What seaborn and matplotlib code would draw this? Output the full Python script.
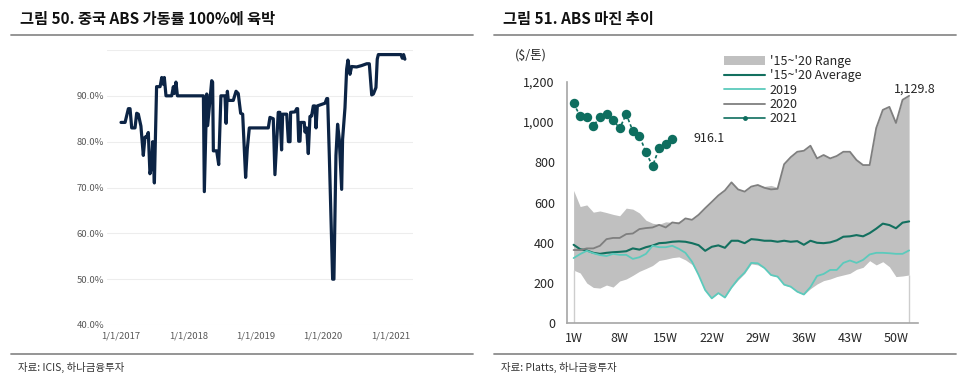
import numpy as np
import pandas as pd
import matplotlib
matplotlib.use("Agg")
import matplotlib.pyplot as plt
import matplotlib.ticker as mticker
from matplotlib.patches import Patch
from matplotlib.lines import Line2D
import seaborn as sns

sns.set_theme(style="white")
plt.rcParams['font.family'] = ['Noto Sans CJK KR', 'DejaVu Sans']

# ---------------- Left chart data: China ABS operating rate (%) ----------------
util_dates = ["2017-01-01", "2017-01-23", "2017-02-10", "2017-02-19", "2017-02-28", "2017-03-18", "2017-03-27", "2017-04-05", "2017-04-19", "2017-05-02",
              "2017-05-11", "2017-05-20", "2017-05-29", "2017-06-07", "2017-06-16", "2017-06-22", "2017-07-01", "2017-07-13", "2017-08-01", "2017-08-10",
              "2017-08-19", "2017-08-24", "2017-09-02", "2017-10-03", "2017-10-12", "2017-10-17", "2017-10-26", "2017-11-03", "2018-03-24", "2018-03-29",
              "2018-04-11", "2018-04-16", "2018-05-08", "2018-05-13", "2018-05-17", "2018-06-04", "2018-06-15", "2018-06-27", "2018-07-19", "2018-07-25",
              "2018-08-01", "2018-08-06", "2018-09-02", "2018-09-17", "2018-09-29", "2018-10-12", "2018-10-23", "2018-11-08", "2018-11-17", "2018-11-28",
              "2019-03-11", "2019-03-20", "2019-04-07", "2019-04-16", "2019-05-04", "2019-05-13", "2019-05-22", "2019-05-28", "2019-06-19", "2019-06-28",
              "2019-07-07", "2019-07-10", "2019-08-03", "2019-08-12", "2019-08-17", "2019-08-23", "2019-08-30", "2019-09-03", "2019-09-22", "2019-09-26",
              "2019-10-05", "2019-10-14", "2019-10-23", "2019-11-01", "2019-11-10", "2019-11-19", "2019-11-25", "2019-12-02", "2019-12-16", "2020-01-13",
              "2020-01-22", "2020-01-27", "2020-02-05", "2020-02-23", "2020-03-01", "2020-03-12", "2020-03-21", "2020-03-30", "2020-04-12", "2020-04-17",
              "2020-04-30", "2020-05-09", "2020-05-16", "2020-05-27", "2020-06-05", "2020-07-02", "2020-07-29", "2020-08-26", "2020-09-09", "2020-09-22",
              "2020-10-01", "2020-10-15", "2020-10-22", "2020-10-28", "2021-02-28", "2021-03-07", "2021-03-14", "2021-03-21"]
util_rate = [84.2, 84.2, 87.2, 87.2, 83.0, 83.0, 86.2, 86.0, 83.4, 77.0,
             81.0, 81.0, 82.0, 73.0, 74.5, 80.0, 71.0, 92.0, 92.0, 94.0,
             92.5, 94.0, 90.0, 90.0, 92.0, 90.5, 93.0, 90.0, 90.0, 69.1,
             90.4, 83.5, 93.3, 93.0, 78.0, 78.0, 75.0, 90.0, 90.0, 84.0,
             91.0, 89.0, 89.0, 91.0, 90.5, 86.2, 86.0, 72.2, 78.4, 83.0,
             83.0, 85.3, 85.0, 72.8, 86.4, 86.4, 78.2, 86.0, 86.0, 80.0,
             80.0, 86.4, 86.5, 87.2, 87.2, 80.1, 80.1, 84.2, 84.2, 82.1,
             83.0, 77.4, 85.5, 85.6, 87.8, 87.8, 83.0, 87.8, 88.0, 88.4,
             89.4, 89.4, 77.0, 50.0, 50.0, 77.0, 83.8, 80.5, 69.6, 80.5,
             87.4, 95.8, 97.8, 94.7, 96.4, 96.3, 96.6, 97.0, 97.0, 90.2,
             90.4, 91.8, 98.0, 99.0, 99.0, 98.2, 99.0, 98.0]
left_xticks = ["2017-01-01", "2018-01-01", "2019-01-01", "2020-01-01", "2021-01-01"]
left_xticklabels = ["1/1/2017", "1/1/2018", "1/1/2019", "1/1/2020", "1/1/2021"]
left_yticks = [40, 50, 60, 70, 80, 90, 100]

# ---------------- Right chart data: ABS margin ($/ton) ----------------
weeks = list(range(1, 53))
range_lo = [264, 250, 200, 178, 175, 190, 180, 210, 220, 238, 258, 272, 287, 312, 318, 326, 330, 315, 292, 240,
            165, 124, 150, 128, 178, 215, 248, 295, 290, 272, 238, 230, 190, 180, 155, 143, 172, 195, 212, 220,
            232, 240, 248, 268, 278, 311, 290, 306, 281, 232, 235, 240]
range_hi = [660, 580, 588, 552, 558, 550, 541, 534, 572, 567, 548, 512, 497, 492, 504, 501, 506, 521, 514, 539,
            572, 603, 635, 660, 700, 665, 654, 679, 687, 680, 685, 675, 790, 825, 852, 857, 882, 819, 836, 819,
            831, 852, 852, 811, 786, 786, 970, 1060, 1075, 995, 1110, 1129.8]
avg_15_20 = [390, 368, 362, 350, 345, 350, 353, 355, 358, 372, 366, 378, 386, 398, 400, 405, 407, 405, 398, 388,
             360, 380, 387, 375, 410, 410, 398, 418, 415, 410, 410, 405, 410, 405, 408, 390, 410, 400, 398, 402,
             412, 430, 432, 438, 432, 448, 470, 495, 488, 472, 500, 506]
y2019 = [324, 344, 360, 348, 339, 334, 345, 340, 340, 320, 328, 345, 385, 378, 378, 385, 370, 350, 306, 240,
         165, 124, 150, 128, 178, 220, 252, 300, 298, 275, 240, 232, 192, 182, 157, 143, 180, 235, 245, 265,
         265, 300, 312, 300, 315, 342, 350, 350, 348, 345, 345, 362]
y2020 = [364, 364, 372, 372, 385, 418, 424, 424, 443, 446, 468, 473, 476, 489, 476, 501, 496, 521, 514, 539,
         572, 603, 635, 660, 700, 665, 654, 679, 687, 673, 665, 668, 790, 825, 852, 857, 882, 819, 836, 819,
         831, 852, 852, 811, 786, 786, 970, 1060, 1075, 995, 1110, 1129.8]
y2021 = [1092, 1029, 1026, 981, 1023, 1039, 1010, 968, 1039, 955, 932, 849, 781, 869, 890, 916.1]
week_ticks = [1, 8, 15, 22, 29, 36, 43, 50]
week_ticklabels = ["1W", "8W", "15W", "22W", "29W", "36W", "43W", "50W"]
right_yticks = [0, 200, 400, 600, 800, 1000, 1200]
legend_labels = ["'15~'20 Range", "'15~'20 Average", "2019", "2020", "2021"]

W, H = 960, 390
fig = plt.figure(figsize=(9.6, 3.9), dpi=100)
fig.patch.set_facecolor("white")

def fx(px):
    return px / W

def fy(py):
    return 1 - py / H

# Titles and separators
fig.text(fx(20), fy(19), "그림 50. 중국 ABS 가동률 100%에 육박", fontsize=11, fontweight="bold",
         va="center", ha="left", color="#111111")
fig.text(fx(503), fy(19), "그림 51. ABS 마진 추이", fontsize=11, fontweight="bold",
         va="center", ha="left", color="#111111")
for x0, x1 in [(11, 473), (494, 956)]:
    for yy in [35, 354]:
        fig.add_artist(Line2D([fx(x0), fx(x1)], [fy(yy), fy(yy)], color="#8c8c8c", lw=1.3))
fig.text(fx(18), fy(367), "자료: ICIS, 하나금융투자", fontsize=7.5, va="center", ha="left", color="#333333")
fig.text(fx(501), fy(367), "자료: Platts, 하나금융투자", fontsize=7.5, va="center", ha="left", color="#333333")

# ---------------- Left chart ----------------
ax1 = fig.add_axes([fx(107), fy(325), fx(413 - 107), (325 - 50) / H])
dfu = pd.DataFrame({"date": pd.to_datetime(util_dates), "rate": util_rate})
sns.lineplot(data=dfu, x="date", y="rate", ax=ax1, color="#0c2445", lw=2.3)
ax1.set_ylim(40, 100)
ax1.set_xlim(pd.Timestamp("2016-10-17"), pd.Timestamp("2021-05-04"))
ax1.set_yticks(left_yticks)
ax1.set_yticklabels([f"{v:.1f}%" if v < 100 else "" for v in left_yticks])
ax1.set_xticks(pd.to_datetime(left_xticks))
ax1.set_xticklabels(left_xticklabels)
ax1.grid(axis="y", color="#ededed", lw=0.8)
for s in ax1.spines.values():
    s.set_visible(False)
ax1.tick_params(axis="both", length=0, labelsize=6.8, labelcolor="#595959", pad=2)
ax1.tick_params(axis="x", pad=5)
ax1.set_xlabel("")
ax1.set_ylabel("")

# ---------------- Right chart ----------------
ax2 = fig.add_axes([fx(566.7), fy(323.3), fx(918 - 566.7), (323.3 - 81.7) / H])
c_rng, c_avg, c19, c20, c21 = "#c0c0c0", "#13705f", "#5ccabc", "#7f7f7f", "#0e6e5f"
ax2.fill_between(weeks, range_lo, range_hi, color=c_rng, lw=0, zorder=1)
ax2.vlines([weeks[0], weeks[-1]], 0, [range_lo[0], range_lo[-1]], color="#cdcdcd", lw=1, zorder=1)
sns.lineplot(x=weeks, y=avg_15_20, ax=ax2, color=c_avg, lw=1.5, zorder=3)
sns.lineplot(x=weeks, y=y2019, ax=ax2, color=c19, lw=1.3, zorder=3)
sns.lineplot(x=weeks, y=y2020, ax=ax2, color=c20, lw=1.3, zorder=3)
sns.lineplot(x=weeks[:len(y2021)], y=y2021, ax=ax2, color=c21, lw=1.2, marker="o", markersize=6.8,
             markeredgewidth=0, linestyle=(0, (2.0, 1.4)), zorder=4)
ax2.set_xlim(-0.05, 53.35)
ax2.set_ylim(0, 1200)
ax2.set_yticks(right_yticks)
ax2.yaxis.set_major_formatter(mticker.FuncFormatter(lambda v, p: f"{int(v):,}"))
ax2.set_xticks(week_ticks)
ax2.set_xticklabels(week_ticklabels)
for s in ["top", "right"]:
    ax2.spines[s].set_visible(False)
for s in ["left", "bottom"]:
    ax2.spines[s].set_color("#a6a6a6")
    ax2.spines[s].set_linewidth(1.2)
ax2.tick_params(axis="both", direction="out", length=3.5, width=1, color="#a6a6a6",
                labelsize=9, labelcolor="#262626", pad=3)
ax2.tick_params(axis="y", pad=5)
ax2.set_xlabel("")
ax2.set_ylabel("")
ax2.grid(False)

ax2.annotate(f"{y2021[-1]:.1f}", xy=(weeks[len(y2021) - 1], y2021[-1]), xytext=(15, 0),
             textcoords="offset points", ha="left", va="center", fontsize=9, color="#262626")
ax2.annotate(f"{y2020[-1]:,.1f}", xy=(weeks[-1], y2020[-1]), xytext=(4, 0),
             textcoords="offset points", ha="center", va="bottom", fontsize=9, color="#262626")
fig.text(fx(531), fy(55), "($/톤)", fontsize=9, ha="center", va="center", color="#262626")

handles = [Patch(facecolor=c_rng, edgecolor="none"),
           Line2D([], [], color=c_avg, lw=1.5),
           Line2D([], [], color=c19, lw=1.3),
           Line2D([], [], color=c20, lw=1.3),
           Line2D([], [], color=c21, lw=1.2, marker="o", markersize=3.5, markeredgewidth=0)]
fig.legend(handles, legend_labels, loc="upper left", bbox_to_anchor=(fx(724), fy(54.5)),
           bbox_transform=fig.transFigure, frameon=False, fontsize=9, borderpad=0, borderaxespad=0,
           handlelength=3.3, handletextpad=0.35, labelspacing=0.12, handleheight=0.7,
           labelcolor="#262626")

fig.savefig("out.png", dpi=100, facecolor="white")
